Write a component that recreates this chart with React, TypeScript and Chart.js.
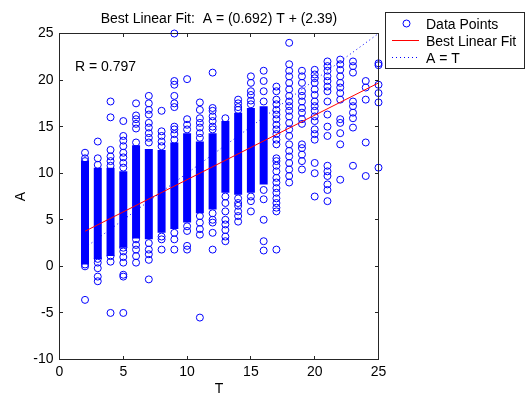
import React, { useEffect, useRef } from "react";
import { Chart, registerables } from "chart.js";

Chart.register(...registerables);

const FONT = "'Liberation Sans', Arial, sans-serif";

// Tick labels
const X_TICKS = [0, 5, 10, 15, 20, 25];
const Y_TICKS = [-10, -5, 0, 5, 10, 15, 20, 25];

// Individual data points (A values) per target value T
const T02 = [12.2, 11.6, 11.3, 0.2, 0.0, -3.6];
const T03 = [13.4, 11.6, 10.9, 0.8, 0.4, -0.2, -1.1, -1.6];
const T04 = [17.7, 16.0, 12.5, 11.8, 11.3, 10.8, 1.1, 0.5, -5.0];
const T05 = [15.6, 14.0, 13.5, 12.9, 12.2, 11.7, 11.1, 10.6, 2.0, 1.6, 1.0, 0.4, -0.9, -1.1, -5.0];
const T06 = [17.5, 16.2, 15.8, 15.3, 14.8, 13.3, 2.9, 2.3, 1.8, 1.1, 0.4];
const T07 = [18.3, 17.5, 16.8, 16.3, 15.4, 14.9, 14.3, 13.8, 13.3, 2.5, 1.8, 1.3, 0.7, -1.4];
const T08 = [16.7, 14.5, 14.0, 13.4, 12.9, 3.2, 2.9, 1.8];
const T09 = [25.0, 19.9, 19.5, 18.3, 17.5, 17.1, 15.0, 14.7, 14.2, 13.6, 3.6, 2.9, 1.8];
const T10 = [20.1, 15.8, 15.2, 14.7, 4.3, 3.8, 2.2, 1.8];
const T11 = [17.6, 16.8, 15.9, 15.4, 14.9, 14.3, 13.8, 5.4, 4.7, 4.0, 3.4, -5.5];
const T12 = [20.8, 17.0, 16.7, 16.1, 15.6, 15.0, 14.7, 5.7, 5.0, 4.7, 3.6, 1.8];
const T13 = [15.9, 7.5, 6.8, 5.9, 5.0, 4.5, 3.9, 3.2, 2.7];
const T14 = [17.9, 17.5, 17.1, 16.8, 7.3, 6.8, 6.5, 5.9, 5.4, 4.8];
const T15 = [20.4, 19.7, 18.8, 18.4, 17.8, 17.4, 7.5, 7.0, 5.9];
const T16 = [21.0, 19.9, 18.8, 17.7, 8.2, 7.2, 5.0, 2.7, 1.7];
const T17 = [19.3, 18.8, 17.9, 17.4, 16.8, 16.3, 15.8, 15.2, 14.7, 14.2, 13.6, 13.1, 11.6, 11.3, 10.8, 10.2, 9.5, 9.0, 8.4, 7.9, 7.3, 6.8, 6.3, 5.9, 1.8];
const T18 = [24.0, 21.7, 21.0, 20.4, 19.7, 19.0, 18.3, 17.7, 17.2, 16.7, 16.1, 15.4, 14.7, 14.0, 13.1, 12.4, 11.8, 11.1, 10.4, 9.7, 9.0];
const T19 = [21.0, 20.4, 19.7, 18.8, 18.3, 17.7, 17.0, 16.5, 15.8, 15.3, 13.1, 12.7, 12.0, 11.3, 10.4];
const T20 = [21.1, 20.6, 20.2, 19.7, 19.0, 18.4, 17.7, 17.2, 16.7, 16.1, 15.6, 14.7, 14.2, 13.6, 11.1, 10.0, 7.5];
const T21 = [22.0, 21.5, 21.0, 20.4, 19.9, 19.3, 18.8, 17.7, 16.3, 15.0, 14.0, 10.8, 10.2, 9.7, 8.8, 8.2, 7.0];
const T22 = [22.2, 21.7, 21.1, 20.4, 19.7, 19.2, 18.6, 17.9, 15.8, 15.4, 14.3, 13.1, 9.3];
const T23 = [22.0, 21.5, 20.8, 17.7, 17.2, 16.5, 15.9, 14.9, 10.8];
const T24 = [19.9, 19.2, 17.9, 13.3, 9.7];
const T25 = [21.8, 21.6, 19.5, 18.6, 17.6, 10.6];

// Densely packed runs of points (too many overlapping circles to list): T, low A, high A
const DENSE_T = [2, 3, 4, 5, 6, 7, 8, 9, 10, 11, 12, 13, 14, 15, 16];
const DENSE_LO = [0.2, 0.8, 1.1, 2.0, 3.0, 2.9, 3.6, 4.0, 4.7, 5.7, 6.1, 7.9, 7.7, 7.9, 8.8];
const DENSE_HI = [11.3, 10.6, 10.6, 10.2, 13.0, 12.6, 12.5, 13.3, 14.3, 13.4, 14.3, 15.6, 16.5, 17.0, 17.2];

// Best linear fit A = 0.692 T + 2.39, and A = T reference
const FIT_T = [2, 25];
const FIT_A = [3.774, 19.69];
const IDENT_T = [2, 25];
const IDENT_A = [2, 25];

const TITLE = "Best Linear Fit:  A = (0.692) T + (2.39)";
const R_TEXT = "R = 0.797";
const X_LABEL = "T";
const Y_LABEL = "A";
const LEGEND = ["Data Points", "Best Linear Fit", "A = T"];

const COLUMNS: [number, number[]][] = [
  [2, T02], [3, T03], [4, T04], [5, T05], [6, T06], [7, T07], [8, T08], [9, T09],
  [10, T10], [11, T11], [12, T12], [13, T13], [14, T14], [15, T15], [16, T16], [17, T17],
  [18, T18], [19, T19], [20, T20], [21, T21], [22, T22], [23, T23], [24, T24], [25, T25],
];

const BLUE = "rgb(0,0,255)";
const RED = "rgb(255,0,0)";
const AXIS = "#262626";

const overlay = {
  id: "overlay",
  afterDraw(chart: any) {
    const { ctx, chartArea: a, scales } = chart;
    const x = scales.x;
    const y = scales.y;
    ctx.save();
    // axes box
    ctx.strokeStyle = AXIS;
    ctx.lineWidth = 1;
    ctx.setLineDash([]);
    ctx.strokeRect(a.left, a.top, a.right - a.left, a.bottom - a.top);
    const TL = 3.5;
    ctx.beginPath();
    X_TICKS.forEach((v) => {
      const px = Math.floor(x.getPixelForValue(v)) + 0.5;
      ctx.moveTo(px, a.bottom);
      ctx.lineTo(px, a.bottom - TL);
      ctx.moveTo(px, a.top);
      ctx.lineTo(px, a.top + TL);
    });
    Y_TICKS.forEach((v) => {
      const py = Math.floor(y.getPixelForValue(v)) + 0.5;
      ctx.moveTo(a.left, py);
      ctx.lineTo(a.left + TL, py);
      ctx.moveTo(a.right, py);
      ctx.lineTo(a.right - TL, py);
    });
    ctx.stroke();

    // texts
    ctx.fillStyle = "#000";
    ctx.font = `14px ${FONT}`;
    ctx.textAlign = "center";
    ctx.textBaseline = "alphabetic";
    ctx.fillText(TITLE, (a.left + a.right) / 2, 22.7);
    ctx.fillText(X_LABEL, (a.left + a.right) / 2, 393);
    ctx.save();
    ctx.translate(25, (a.top + a.bottom) / 2);
    ctx.rotate(-Math.PI / 2);
    ctx.fillText(Y_LABEL, 0, 0);
    ctx.restore();
    ctx.textAlign = "left";
    ctx.fillText(R_TEXT, 75, 70.5);

    // legend
    const lx = 385.5, ly = 12.5, lw = 139, lh = 56;
    ctx.fillStyle = "#fff";
    ctx.fillRect(lx, ly, lw, lh);
    ctx.strokeStyle = AXIS;
    ctx.strokeRect(lx, ly, lw, lh);
    const rows = [23.5, 40.5, 57.5];
    // circle
    ctx.strokeStyle = BLUE;
    ctx.beginPath();
    ctx.arc(406.5, rows[0], 3.5, 0, Math.PI * 2);
    ctx.stroke();
    // red line
    ctx.strokeStyle = RED;
    ctx.beginPath();
    ctx.moveTo(392, rows[1]);
    ctx.lineTo(419, rows[1]);
    ctx.stroke();
    // dotted
    ctx.strokeStyle = BLUE;
    ctx.setLineDash([1, 3]);
    ctx.beginPath();
    ctx.moveTo(392, rows[2]);
    ctx.lineTo(419, rows[2]);
    ctx.stroke();
    ctx.setLineDash([]);
    ctx.fillStyle = "#000";
    ctx.textBaseline = "alphabetic";
    LEGEND.forEach((t, i) => ctx.fillText(t, 426, rows[i] + 5));
    ctx.restore();
  },
};

export default function App() {
  const ref = useRef<HTMLCanvasElement>(null);
  useEffect(() => {
    document.body.style.margin = "0";
    const pts: { x: number; y: number }[] = [];
    COLUMNS.forEach(([t, arr]) => arr.forEach((v) => pts.push({ x: t, y: v })));
    const dense: { x: number; y: number | null }[] = [];
    DENSE_T.forEach((t, i) => {
      dense.push({ x: t, y: DENSE_LO[i] }, { x: t, y: DENSE_HI[i] }, { x: t, y: null });
    });
    const chart = new Chart(ref.current as HTMLCanvasElement, {
      type: "scatter",
      data: {
        datasets: [
          {
            type: "line",
            label: LEGEND[2],
            data: IDENT_T.map((t, i) => ({ x: t, y: IDENT_A[i] })),
            borderColor: BLUE,
            borderWidth: 1,
            borderDash: [1, 3],
            pointRadius: 0,
            order: 0,
          } as any,
          {
            type: "line",
            label: LEGEND[1],
            data: FIT_T.map((t, i) => ({ x: t, y: FIT_A[i] })),
            borderColor: RED,
            borderWidth: 1,
            pointRadius: 0,
            order: 1,
          } as any,
          {
            type: "scatter",
            label: LEGEND[0],
            data: pts,
            pointRadius: 3.5,
            borderColor: BLUE,
            backgroundColor: "rgba(0,0,0,0)",
            borderWidth: 1,
            clip: false,
            order: 2,
          } as any,
          {
            type: "line",
            label: "dense",
            data: dense,
            borderColor: BLUE,
            borderWidth: 8,
            borderCapStyle: "butt",
            pointRadius: 0,
            spanGaps: false,
            order: 3,
          } as any,
        ],
      },
      options: {
        responsive: false,
        animation: false,
        devicePixelRatio: 1,
        layout: { padding: { top: 33.5, right: 147.5, left: 0, bottom: 0 } },
        plugins: { legend: { display: false }, title: { display: false }, tooltip: { enabled: false } },
        events: [],
        scales: {
          x: {
            type: "linear",
            min: 0,
            max: 25,
            grid: { display: false, drawTicks: false },
            border: { display: false },
            afterBuildTicks: (s: any) => { s.ticks = X_TICKS.map((v) => ({ value: v })); },
            afterFit: (s: any) => { s.height = 37.5; },
            ticks: { padding: 4, color: "#000", font: { family: FONT, size: 14 }, maxRotation: 0, autoSkip: false },
          },
          y: {
            type: "linear",
            min: -10,
            max: 25,
            grid: { display: false, drawTicks: false },
            border: { display: false },
            afterBuildTicks: (s: any) => { s.ticks = Y_TICKS.map((v) => ({ value: v })); },
            afterFit: (s: any) => { s.width = 59.5; },
            ticks: { padding: 6, color: "#000", font: { family: FONT, size: 14 }, autoSkip: false },
          },
        },
      },
      plugins: [overlay],
    });
    return () => chart.destroy();
  }, []);
  return <canvas ref={ref} width={526} height={397} style={{ display: "block", width: 526, height: 397 }} />;
}
